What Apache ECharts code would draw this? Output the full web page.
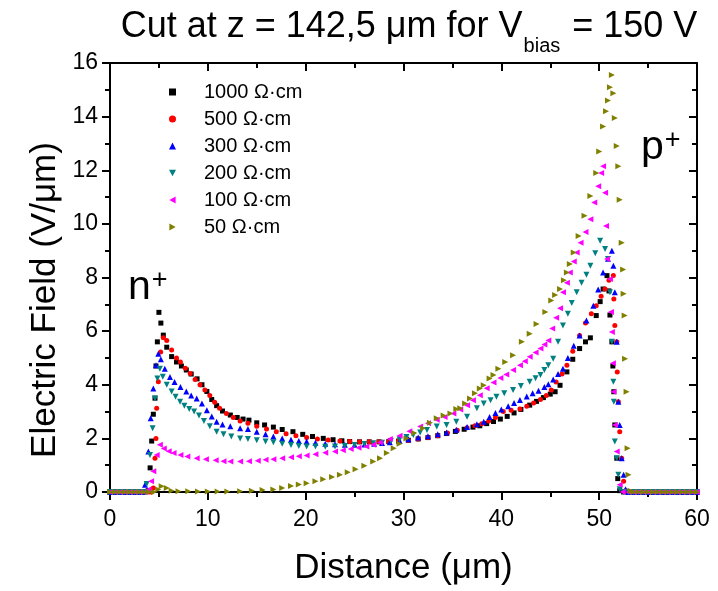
<!DOCTYPE html>
<html><head><meta charset="utf-8">
<script src="https://cdn.jsdelivr.net/npm/echarts@6/dist/echarts.min.js"></script>
<style>html,body{margin:0;padding:0;background:#fff}#c{width:718px;height:591px}</style>
</head><body><div id="c"></div>
<script>
const seriesNames = ['1000 Ω·cm', '500 Ω·cm', '300 Ω·cm', '200 Ω·cm', '100 Ω·cm', '50 Ω·cm'];
const xTicks = [0, 10, 20, 30, 40, 50, 60];
const yTicks = [0, 2, 4, 6, 8, 10, 12, 14, 16];

const s1000 = [[0,0],[0.5,0],[1,0],[1.5,0],[2,0],[2.5,0],[3,0],[3.5,0],[3.9,0.05],
 [4.1,0.9],[4.26,1.9],[4.43,2.9],[4.6,3.5],[4.7,4.7],[4.84,5.6],[5.0,6.7],
 [5.2,6.3],[5.45,5.85],[5.8,5.4],[6.3,5.05],[6.8,4.85],[7.3,4.7],[7.8,4.55],[8.3,4.4],[8.9,4.22],[9.4,4.0],[9.9,3.75],[10.4,3.45],[10.9,3.22],[11.5,3.02],[12.3,2.87],[13.0,2.78],[13.6,2.72],[14.2,2.68],[15,2.58],[15.8,2.5],[16.7,2.42],[17.6,2.33],[18.7,2.25],[19.7,2.15],[20.7,2.07],[21.8,2.0],[22.8,1.95],[23.7,1.91],[24.5,1.88],[25.5,1.87],[26.5,1.87],[27.5,1.87],[28.5,1.88],[29.5,1.9],[30.5,1.93],[31.5,1.98],[32.5,2.03],[33.5,2.1],[34.4,2.18],[35.3,2.26],[36.2,2.34],[37.1,2.42],[37.8,2.47],[38.5,2.55],[39.2,2.63],[39.9,2.72],[40.6,2.82],[41.3,2.95],[42.0,3.08],[42.9,3.24],[43.6,3.38],[44.3,3.52],[45.0,3.65],[45.5,3.74],[46.0,3.98],[46.7,4.48],[47.3,4.95],[48.0,5.35],[48.6,5.6],[49.1,5.75],[49.7,6.58],[50.1,7.1],[50.4,7.57],[50.8,8.07],
 [51.0,7.5],[51.1,6.6],[51.3,5.6],[51.4,4.7],[51.5,3.74],[51.6,2.5],[51.8,1.26],[51.9,0.5],[52.1,0.05],[52.5,0],[53,0],[53.5,0],[54,0],[54.5,0],[55,0],[55.5,0],[56,0],[56.5,0],[57,0],[57.5,0],[58,0],[58.5,0],[59,0],[59.5,0],[60,0]];

const s500 = [[0,0],[0.5,0],[1,0],[1.5,0],[2,0],[2.5,0],[3,0],[3.5,0],[4,0],[4.25,0],
 [4.43,0.15],[4.6,1.26],[4.7,2.0],[4.77,3.12],[4.94,4.11],[5.18,5.22],[5.45,5.75],
 [5.8,5.65],[6.3,5.3],[6.8,5.0],[7.2,4.85],[7.7,4.62],[8.2,4.42],[8.7,4.2],[9.2,4.0],[9.7,3.8],[10.2,3.6],[10.7,3.35],[11.2,3.12],[11.9,2.93],[12.6,2.78],[13.3,2.65],[14.1,2.56],[15,2.45],[16,2.35],[17,2.25],[18,2.17],[19,2.1],[20.1,2.03],[21.2,1.98],[22.3,1.94],[23.5,1.9],[24.5,1.88],[25.5,1.87],[26.5,1.87],[27.5,1.87],[28.5,1.88],[29.5,1.9],[30.5,1.93],[31.5,1.98],[32.5,2.03],[33.5,2.1],[34.5,2.2],[35.5,2.3],[36.5,2.4],[37.3,2.47],[38.0,2.55],[38.7,2.65],[39.4,2.78],[40.2,3.0],[41.0,3.05],[41.9,3.1],[42.6,3.2],[43.3,3.32],[44.0,3.45],[44.6,3.6],[45.1,3.8],[45.6,4.1],[46.2,4.4],[46.7,4.73],[47.3,5.25],[48.0,5.84],[48.6,6.3],[49.2,6.65],[49.7,6.95],[50.2,7.3],[50.6,7.57],[51.0,7.9],[51.45,8.07],
 [51.5,7.2],[51.6,6.21],[51.8,5.6],[51.85,4.48],[51.96,3.37],[52.1,2.25],[52.3,1.26],[52.5,0.4],[52.7,0.05],[53,0],[53.5,0],[54,0],[54.5,0],[55,0],[55.5,0],[56,0],[56.5,0],[57,0],[57.5,0],[58,0],[58.5,0],[59,0],[59.5,0],[60,0]];

const s300 = [[0,0],[0.5,0],[1,0],[1.5,0],[2,0],[2.5,0],[3,0],[3.3,0],
 [3.58,0.27],[3.92,1.51],[4.16,2.75],[4.43,3.86],[4.7,4.73],[4.94,5.16],
 [5.2,4.95],[5.6,4.6],[6.13,4.29],[6.6,4.1],[7.2,3.92],[7.8,3.75],[8.3,3.6],[8.86,3.49],[9.4,3.3],[9.9,3.05],[10.4,2.82],[10.9,2.62],[11.5,2.52],[12.3,2.45],[13.3,2.38],[14.1,2.35],[15,2.25],[15.9,2.15],[16.7,2.07],[17.6,2.0],[18.5,1.95],[19.3,1.9],[20.1,1.88],[21,1.84],[22,1.8],[23,1.78],[24,1.76],[25,1.76],[26,1.77],[27,1.8],[27.8,1.83],[28.6,1.86],[29.6,1.9],[30.5,1.97],[31.5,2.03],[32.5,2.08],[33.5,2.15],[34.4,2.22],[35.4,2.32],[36.5,2.42],[37.5,2.53],[38.2,2.62],[38.8,2.8],[39.4,2.95],[40.0,3.08],[40.7,3.2],[41.3,3.32],[41.9,3.43],[42.6,3.56],[43.2,3.68],[43.8,3.78],[44.4,3.92],[44.8,4.02],[45.3,4.2],[45.8,4.4],[46.3,4.6],[46.8,5.0],[47.4,5.45],[48.0,5.84],[48.7,6.4],[49.4,6.95],[49.9,7.55],[50.4,8.19],[50.9,8.7],[51.3,9.0],
 [51.45,8.44],[51.6,7.45],[51.8,5.6],[51.96,3.37],[52.1,2.5],[52.3,1.26],[52.5,0.64],[52.7,0.1],[53,0],[53.5,0],[54,0],[54.5,0],[55,0],[55.5,0],[56,0],[56.5,0],[57,0],[57.5,0],[58,0],[58.5,0],[59,0],[59.5,0],[60,0]];

const s200 = [[0,0],[0.5,0],[1,0],[1.5,0],[2,0],[2.5,0],[3,0],[3.5,0],
 [3.75,0.3],[4.09,1.38],[4.36,2.38],[4.6,3.49],[4.84,4.23],[5.1,4.6],
 [5.4,4.3],[5.8,4.0],[6.3,3.75],[6.7,3.55],[7.16,3.37],[7.6,3.22],[8.1,3.1],[8.6,3.0],[9.1,2.85],[9.6,2.65],[10.2,2.45],[10.9,2.25],[11.6,2.15],[12.4,2.07],[13.3,2.0],[14.1,1.98],[15,1.93],[15.9,1.88],[16.7,1.86],[17.6,1.8],[18.5,1.75],[19.3,1.72],[20.1,1.7],[21,1.7],[22,1.69],[23,1.7],[24,1.72],[25,1.75],[26,1.79],[26.9,1.82],[27.8,1.84],[28.7,1.9],[29.6,1.97],[30.3,2.05],[31,2.13],[31.7,2.22],[32.4,2.31],[33.4,2.44],[34.4,2.5],[35.4,2.62],[36.5,2.81],[37.5,3.12],[38.2,3.3],[38.9,3.42],[39.5,3.55],[40.3,3.68],[41.2,3.8],[42.0,3.95],[42.9,4.11],[43.5,4.24],[44.0,4.36],[44.4,4.55],[44.8,4.73],[45.3,4.97],[45.8,5.6],[46.3,6.21],[46.8,6.65],[47.2,7.05],[47.7,7.45],[48.2,7.8],[48.7,8.1],[49.1,8.44],[49.6,8.9],[50.1,9.37],[50.6,9.06],[50.9,8.69],
 [51.1,7.45],[51.3,5.6],[51.45,4.11],[51.5,3.37],[51.6,1.88],[51.8,1.26],[51.96,0.64],[52.1,0.1],[52.5,0],[53,0],[53.5,0],[54,0],[54.5,0],[55,0],[55.5,0],[56,0],[56.5,0],[57,0],[57.5,0],[58,0],[58.5,0],[59,0],[59.5,0],[60,0]];

const s100 = [[0,0],[0.5,0],[1,0],[1.5,0],[2,0],[2.5,0],[3,0],[3.6,0],
 [3.92,0.09],[4.2,0.4],[4.43,0.77],[4.77,1.38],[5.1,1.76],
 [5.5,1.62],[6.0,1.52],[6.5,1.45],[7.2,1.38],[7.9,1.32],[8.86,1.26],[9.8,1.22],[10.8,1.18],[11.6,1.15],[12.3,1.14],[13.3,1.14],[14.2,1.15],[15.1,1.17],[15.9,1.2],[16.7,1.22],[17.6,1.26],[18.5,1.3],[19.3,1.33],[20.1,1.36],[21,1.41],[22,1.46],[23,1.51],[23.8,1.56],[24.6,1.6],[25.4,1.65],[26.2,1.7],[26.9,1.76],[27.6,1.85],[28.6,1.98],[29.6,2.1],[30.6,2.27],[31.7,2.44],[32.5,2.56],[33.4,2.69],[34.2,2.8],[35.1,2.93],[35.8,3.08],[36.5,3.24],[37.1,3.42],[37.8,3.61],[38.5,3.87],[39.2,4.08],[39.9,4.25],[40.5,4.38],[41.2,4.55],[41.9,4.73],[42.4,4.88],[42.9,5.04],[43.5,5.2],[44,5.35],[44.4,5.5],[44.8,5.65],[45.2,6.1],[45.6,6.5],[46.0,6.85],[46.3,7.45],[46.7,7.8],[47.0,8.19],[47.4,8.6],[47.7,8.93],[48.1,9.3],[48.6,9.7],[49.1,10.17],[49.5,10.8],[49.9,11.4],[50.2,11.9],[50.4,12.15],
 [50.6,11.16],[50.7,9.92],[50.8,8.69],[51.1,7.94],[51.2,6.71],[51.3,5.97],[51.4,4.8],[51.45,3.74],[51.6,2.5],[51.8,1.51],[52.1,0.27],[52.4,0],[53,0],[53.5,0],[54,0],[54.5,0],[55,0],[55.5,0],[56,0],[56.5,0],[57,0],[57.5,0],[58,0],[58.5,0],[59,0],[59.5,0],[60,0]];

const s50 = [[0,0],[0.5,0],[1,0],[1.5,0],[2,0],[2.5,0],[3,0],[3.5,0],[4,0],[4.5,0],
 [4.94,0.09],[5.28,0.21],[5.8,0.15],[6.3,0.05],[7,0.03],[8,0.03],[9,0.02],[10,0.02],[11,0.02],[12,0.02],[13.3,0.03],[14.5,0.05],[15.6,0.07],[16.7,0.09],[17.6,0.15],[18.5,0.22],[19.3,0.28],[20.1,0.33],[21,0.4],[21.8,0.48],[22.7,0.56],[23.5,0.64],[24.3,0.74],[25.1,0.85],[26,0.98],[26.9,1.14],[27.6,1.26],[28.3,1.45],[29,1.63],[29.6,1.8],[30.3,2.0],[31.1,2.2],[32,2.38],[32.7,2.58],[33.4,2.75],[34.1,2.85],[34.8,2.93],[35.4,3.1],[35.8,3.12],[36.3,3.3],[36.8,3.49],[37.3,3.68],[37.8,3.86],[38.2,3.98],[38.8,4.23],[39.2,4.36],[39.7,4.6],[40.4,4.85],[41.2,5.1],[42.1,5.6],[42.9,5.9],[43.6,6.27],[44.5,6.71],[45.1,7.14],[45.5,7.35],[46.0,7.57],[46.4,7.9],[46.7,8.19],[47.0,8.5],[47.4,8.93],[47.9,9.55],[48.5,10.3],[49.1,11.04],[49.7,11.9],[50.0,12.7],[50.4,13.63],[50.7,14.2],[50.9,14.6],[51.1,15.1],[51.3,15.55],
 [51.45,14.87],[51.6,13.95],[51.8,12.9],[51.96,12.15],[52.1,10.9],[52.3,9.3],[52.45,8.3],[52.5,7.39],[52.6,6.58],[52.65,4.97],[52.8,3.74],[52.9,1.63],[53.0,0.64],[53.2,0.05],[53.5,0],[54,0],[54.5,0],[55,0],[55.5,0],[56,0],[56.5,0],[57,0],[57.5,0],[58,0],[58.5,0],[59,0],[59.5,0],[60,0]];

const seriesData = [s1000, s500, s300, s200, s100, s50];
const colors = ['#000000', '#ff0000', '#0000ff', '#008080', '#ff00ff', '#808000'];
const symbols = ['rect', 'circle', 'triangle', 'path://M0,0 L10,0 L5,9 Z', 'path://M9,0 L0,5 L9,10 Z', 'path://M0,0 L9,5 L0,10 Z'];
const sizes = [5, 5, 6, 6, 6, 6];

const FONT = 'Liberation Sans, Arial, sans-serif';
const chart = echarts.init(document.getElementById('c'));

const axisCommon = {
  axisLine: { show: true, onZero: false, lineStyle: { color: '#000', width: 2 } },
  splitLine: { show: false }
};
const supRich = {
  n: { fontFamily: FONT, fontSize: 41, color: '#000', verticalAlign: 'top', lineHeight: 46 },
  p: { fontFamily: FONT, fontSize: 27, color: '#000', verticalAlign: 'top', lineHeight: 28, padding: [0,0,0,1] }
};

chart.setOption({
  animation: false,
  backgroundColor: '#fff',
  textStyle: { fontFamily: FONT },
  title: {
    left: 404, top: 4, textAlign: 'center',
    text: '{a|Cut at z = 142,5 μm for V}{s|bias}{a| = 150 V}',
    textStyle: {
      fontWeight: 'normal',
      rich: {
        a: { fontFamily: FONT, fontWeight: 'normal', fontSize: 36, color: '#000', lineHeight: 40, verticalAlign: 'top' },
        s: { fontFamily: FONT, fontWeight: 'normal', fontSize: 20, color: '#000', lineHeight: 20, verticalAlign: 'top', padding: [27, 2, 0, 1] }
      }
    }
  },
  legend: {
    orient: 'vertical', left: 164, top: 77,
    itemWidth: 7, itemHeight: 7, itemGap: 7,
    data: seriesNames,
    textStyle: { fontFamily: FONT, fontSize: 20, lineHeight: 20, color: '#000', padding: [0, 0, 0, 23] }
  },
  grid: { left: 110, right: 21, top: 63, bottom: 97, containLabel: false },
  xAxis: [
    Object.assign({}, axisCommon, {
      type: 'value', min: 0, max: 60, interval: 10, position: 'bottom',
      name: 'Distance (μm)', nameLocation: 'middle', nameGap: 59,
      nameTextStyle: { fontFamily: FONT, fontSize: 35, color: '#000' },
      axisTick: { show: true, inside: false, length: 8, lineStyle: { color: '#000', width: 2 } },
      minorTick: { show: true, splitNumber: 2, length: 5, lineStyle: { color: '#000', width: 2 } },
      axisLabel: { fontFamily: FONT, fontSize: 23, color: '#000', margin: 16,
        formatter: v => xTicks.includes(v) ? String(v) : '' }
    }),
    Object.assign({}, axisCommon, {
      type: 'value', min: 0, max: 60, interval: 10, position: 'top',
      axisTick: { show: true, inside: true, length: 8, lineStyle: { color: '#000', width: 2 } },
      minorTick: { show: true, splitNumber: 2, length: 5, lineStyle: { color: '#000', width: 2 } },
      axisLabel: { show: false }
    })
  ],
  yAxis: [
    Object.assign({}, axisCommon, {
      type: 'value', min: 0, max: 16, interval: 2, position: 'left',
      axisTick: { show: true, inside: false, length: 8, lineStyle: { color: '#000', width: 2 } },
      minorTick: { show: true, splitNumber: 2, length: 5, lineStyle: { color: '#000', width: 2 } },
      axisLabel: { fontFamily: FONT, fontSize: 23, color: '#000', margin: 12,
        formatter: v => yTicks.includes(v) ? String(v) : '' }
    }),
    Object.assign({}, axisCommon, {
      type: 'value', min: 0, max: 16, interval: 2, position: 'right',
      axisTick: { show: true, inside: true, length: 8, lineStyle: { color: '#000', width: 2 } },
      minorTick: { show: true, splitNumber: 2, length: 5, lineStyle: { color: '#000', width: 2 } },
      axisLabel: { show: false }
    })
  ],
  graphic: [
    { type: 'text', x: 45, y: 300, rotation: Math.PI / 2,
      style: { text: 'Electric Field (V/μm)', fontFamily: FONT, fontSize: 35, fill: '#000', align: 'center', verticalAlign: 'middle' } },
    { type: 'text', left: 128, top: 267, style: { text: '{n|n}{p|+}', rich: supRich } },
    { type: 'text', left: 641, top: 127, style: { text: '{n|p}{p|+}', rich: supRich } }
  ],
  series: seriesNames.map((name, i) => ({
    name, type: 'scatter', xAxisIndex: 0, yAxisIndex: 0,
    data: seriesData[i], symbol: symbols[i], symbolSize: sizes[i],
    itemStyle: { color: colors[i], opacity: 1 },
    emphasis: { disabled: true }, z: 2 + i
  }))
});
</script></body></html>
